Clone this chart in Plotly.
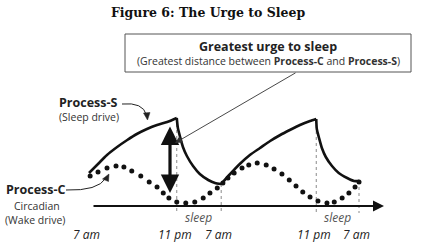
import plotly.graph_objects as go

# ---------------- data (hours since 7 am, arbitrary "drive" level) ----------------
c_hours = [0.2, 1.6, 3.2, 4.8, 6.2, 7.6, 9.2, 10.7, 12.1, 13.2, 14.2, 15.6, 17.2, 18.8,
           20.3, 21.5, 22.8, 23.8, 24.7, 25.8, 27.2, 28.4, 29.9, 31.5, 32.9, 34.3, 35.6,
           36.8, 38.0, 39.3, 40.7, 42.3, 43.6, 45.0, 46.2, 47.3, 48.0]
c_level = [30, 34, 38, 40, 39, 35, 30, 24, 19, 13, 8, 4, 3, 4, 8, 13, 18, 23, 28, 33, 38,
           41, 43, 41, 37, 32, 26, 20, 14, 9, 5, 3, 4, 8, 13, 19, 24]

s_rise1_h = [0, 1.6, 3.2, 5.0, 6.8, 8.5, 10.3, 12.1, 13.9, 15.6]
s_rise1_v = [33, 42, 51, 59, 66, 72, 77, 81, 84, 88]
s_fall1_h = [15.6, 15.8, 16.2, 16.7, 17.4, 18.5, 19.7, 21.2, 22.4, 23.5]
s_fall1_v = [88, 78, 69, 59, 50, 40, 32, 26, 23, 22]
s_rise2_h = [23.5, 25.1, 26.8, 28.6, 30.4, 32.2, 34.0, 35.7, 37.5, 39.3, 40.4]
s_rise2_v = [22, 32, 42, 51, 58, 65, 71, 76, 81, 85, 87]
s_fall2_h = [40.4, 40.5, 40.9, 41.4, 42.1, 43.2, 44.4, 45.9, 47.1, 48.0]
s_fall2_v = [87, 77, 68, 58, 49, 40, 33, 28, 25, 25]

tick_hours = [0, 15.6, 23.5, 40.4, 48.0]
tick_labels = ["7 am", "11 pm", "7 am", "11 pm", "7 am"]
marker_hours = [15.6, 23.5, 40.4, 48.0]       # dotted guide lines
marker_tops = [88, 22, 87, 25]
sleep_hours = [19.5, 44.2]
sleep_labels = ["sleep", "sleep"]

# ---------------- helpers: pixel position -> data coords (for decorations) --------------
PX_PER_H = 5.625
X0 = 89
Y0 = 206


def X(px):
    return (px - X0) / PX_PER_H


def Y(py):
    return Y0 - py


SANS = "Open Sans"

fig = go.Figure()

# Process-S (sharp cusps -> separate spline segments)
for hh, vv in [(s_rise1_h, s_rise1_v), (s_fall1_h, s_fall1_v),
               (s_rise2_h, s_rise2_v), (s_fall2_h, s_fall2_v)]:
    fig.add_trace(go.Scatter(x=hh, y=vv, mode="lines",
                             line=dict(color="#111111", width=2.6, shape="spline", smoothing=0.6),
                             hoverinfo="skip", showlegend=False))

# Process-C (dotted circadian)
fig.add_trace(go.Scatter(x=c_hours, y=c_level, mode="markers",
                         marker=dict(color="#111111", size=5),
                         hoverinfo="skip", showlegend=False))

shapes = []
# dotted guide lines
for h, top in zip(marker_hours, marker_tops):
    shapes.append(dict(type="line", xref="x", yref="y", x0=h, x1=h, y0=top, y1=Y(213),
                       line=dict(color="#8a8a8a", width=1, dash="dot"), layer="below"))

# annotation box
shapes.append(dict(type="rect", xref="x", yref="y", x0=X(125), x1=X(411), y0=Y(34), y1=Y(72),
                   line=dict(color="#555555", width=1), fillcolor="white"))

# curved arrow Process-S
shapes.append(dict(type="path", xref="x", yref="y",
                   path=f"M {X(122)},{Y(104)} Q {X(143)},{Y(102)} {X(146.5)},{Y(115)}",
                   line=dict(color="#222222", width=1)))
shapes.append(dict(type="path", xref="x", yref="y",
                   path=f"M {X(143.5)},{Y(113)} L {X(150)},{Y(112.5)} L {X(147.5)},{Y(120)} Z",
                   line=dict(color="#222222", width=0.5), fillcolor="#222222"))
# curved arrow Process-C
shapes.append(dict(type="path", xref="x", yref="y",
                   path=f"M {X(66)},{Y(190)} Q {X(98)},{Y(191)} {X(106)},{Y(178)}",
                   line=dict(color="#222222", width=1)))
shapes.append(dict(type="path", xref="x", yref="y",
                   path=f"M {X(102.5)},{Y(179)} L {X(109)},{Y(174)} L {X(108.5)},{Y(181.5)} Z",
                   line=dict(color="#222222", width=0.5), fillcolor="#222222"))

annotations = []
# time axis with arrow
annotations.append(dict(x=X(384), y=0, ax=X(92), ay=0, xref="x", yref="y", axref="x", ayref="y",
                        text="", showarrow=True, arrowhead=2, arrowsize=1.1, arrowwidth=2,
                        arrowcolor="#111111"))
# double arrow (greatest distance)
annotations.append(dict(x=X(170), y=Y(193), ax=X(170), ay=Y(125), xref="x", yref="y",
                        axref="x", ayref="y", text="", showarrow=True, arrowhead=2,
                        startarrowhead=2, arrowside="end+start", arrowsize=1.15,
                        startarrowsize=1.15, arrowwidth=3.2, arrowcolor="#111111"))
# pointer from box
annotations.append(dict(x=X(175), y=Y(143), ax=X(297), ay=Y(72), xref="x", yref="y",
                        axref="x", ayref="y", text="", showarrow=True, arrowhead=2,
                        arrowsize=1.6, arrowwidth=0.9, arrowcolor="#333333"))

# tick labels
for h, t in zip(tick_hours, tick_labels):
    annotations.append(dict(x=h - 0.4, y=Y(234), xref="x", yref="y", text=f"<i>{t}</i>",
                            showarrow=False, font=dict(family=SANS, size=12, color="#222222")))
for h, t in zip(sleep_hours, sleep_labels):
    annotations.append(dict(x=h, y=Y(217), xref="x", yref="y", text=f"<i>{t}</i>",
                            showarrow=False, font=dict(family=SANS, size=12, color="#555555")))

# labels
annotations += [
    dict(x=X(88), y=Y(102), text="<b>Process-S</b>", font=dict(family=SANS, size=12.5, color="#222222")),
    dict(x=X(89), y=Y(117), text="(Sleep drive)", font=dict(family=SANS, size=10.5, color="#333333")),
    dict(x=X(36), y=Y(189.5), text="<b>Process-C</b>", font=dict(family=SANS, size=12.5, color="#222222")),
    dict(x=X(37), y=Y(206), text="Circadian", font=dict(family=SANS, size=10.5, color="#333333")),
    dict(x=X(35), y=Y(220), text="(Wake drive)", font=dict(family=SANS, size=10.5, color="#333333")),
    dict(x=X(268), y=Y(46), text="<b>Greatest urge to sleep</b>",
         font=dict(family=SANS, size=12.5, color="#222222")),
    dict(x=X(268), y=Y(61),
         text="(Greatest distance between <b>Process-C</b> and <b>Process-S</b>)",
         font=dict(family=SANS, size=10.5, color="#333333")),
    dict(x=X(208), y=Y(12), text="<b>Figure 6: The Urge to Sleep</b>",
         font=dict(family="DejaVu Serif", size=12.5, color="#111111")),
]
for a in annotations[-8:]:
    a.update(xref="x", yref="y", showarrow=False)

fig.update_layout(
    width=425, height=245, margin=dict(l=0, r=0, t=0, b=0),
    paper_bgcolor="white", plot_bgcolor="white",
    xaxis=dict(range=[X(0), X(425)], visible=False, fixedrange=True),
    yaxis=dict(range=[Y(245), Y(0)], visible=False, fixedrange=True),
    shapes=shapes, annotations=annotations, showlegend=False,
)

fig.write_html("out.html")
